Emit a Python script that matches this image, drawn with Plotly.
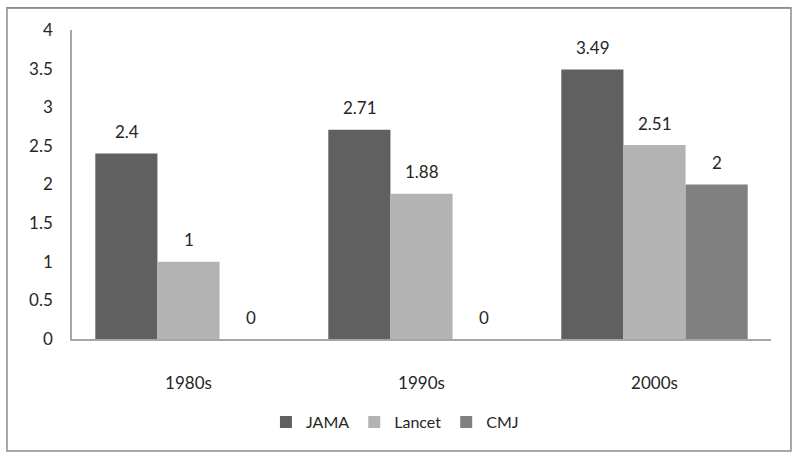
import plotly.graph_objects as go

categories = ["1980s", "1990s", "2000s"]
series_names = ["JAMA", "Lancet", "CMJ"]
jama = [2.4, 2.71, 3.49]
lancet = [1, 1.88, 2.51]
cmj = [0, 0, 2]
label_text = {"JAMA": ["2.4", "2.71", "3.49"], "Lancet": ["1", "1.88", "2.51"], "CMJ": ["0", "0", "2"]}
y_ticks = [0, 0.5, 1, 1.5, 2, 2.5, 3, 3.5, 4]
y_tick_text = ["0", "0.5", "1", "1.5", "2", "2.5", "3", "3.5", "4"]

colors = {"JAMA": "#606060", "Lancet": "#b3b3b3", "CMJ": "#808080"}
values = {"JAMA": jama, "Lancet": lancet, "CMJ": cmj}
FONT = "Lato"
TXT = "#262626"

fig = go.Figure()
for name in series_names:
    fig.add_trace(go.Bar(x=categories, y=values[name], name=name,
                         marker=dict(color=colors[name], line=dict(width=0))))

shifts = {"JAMA": -62, "Lancet": 0, "CMJ": 62}
for name in series_names:
    for c, v, t in zip(categories, values[name], label_text[name]):
        fig.add_annotation(x=c, y=v, text=t, showarrow=False, xshift=shifts[name],
                           yshift=22, font=dict(family=FONT, size=17, color=TXT))

# outer chart border
fig.add_shape(type="rect", xref="paper", yref="paper", x0=-0.093, x1=1.0286,
              y0=-0.3625, y1=1.072, line=dict(color="#8c8c8c", width=1.5),
              fillcolor="rgba(0,0,0,0)", layer="above")
fig.add_shape(type="line", xref="paper", yref="paper", ysizemode="pixel", yanchor=1,
              x0=-0.093, x1=1.0286, y0=22, y1=22,
              line=dict(color="#8c8c8c", width=1.5), layer="above")

fig.update_layout(
    width=800, height=459,
    margin=dict(l=72, r=29, t=30, b=120),
    paper_bgcolor="white", plot_bgcolor="white",
    barmode="group", bargap=0.2, bargroupgap=0,
    font=dict(family=FONT, size=17, color=TXT),
    showlegend=True,
    legend=dict(orientation="h", x=0.462, xanchor="center", y=-0.269, yanchor="middle",
                font=dict(family=FONT, size=16, color=TXT), itemwidth=30,
                traceorder="normal"),
    xaxis=dict(showline=True, linecolor="#a6a6a6", linewidth=1.5, ticks="",
               ticklabelstandoff=28, showgrid=False),
    yaxis=dict(range=[0, 4], tickvals=y_ticks, ticktext=y_tick_text, showline=True,
               linecolor="#a6a6a6", linewidth=1.5, showgrid=False, zeroline=False,
               ticks="", ticklabelstandoff=14),
)

fig.write_html("out.html", config={"displayModeBar": False},
               post_script="document.body.style.margin='0';")
